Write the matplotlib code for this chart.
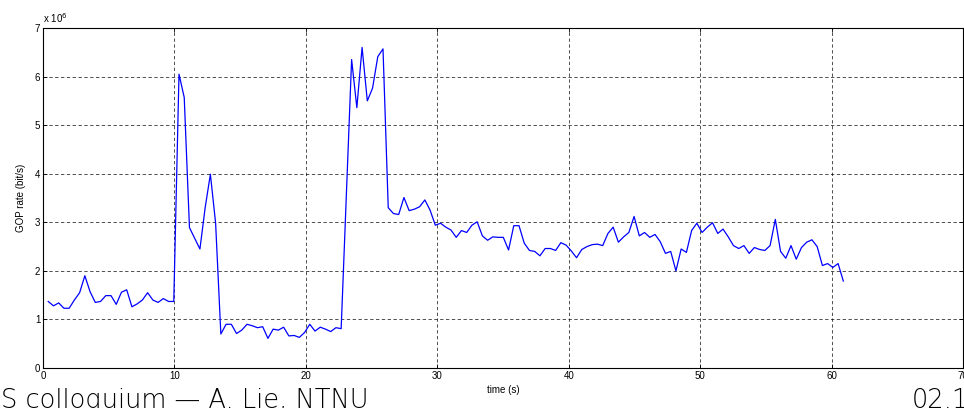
import numpy as np
import matplotlib
matplotlib.use("Agg")
import matplotlib.pyplot as plt

# GOP rate values in units of 1e6 bit/s, one per GOP
gop_rate_mbit = [
    1.37, 1.28, 1.34, 1.23, 1.23, 1.40, 1.55, 1.90, 1.57, 1.35,
    1.37, 1.49, 1.49, 1.31, 1.56, 1.61, 1.26, 1.32, 1.40, 1.55,
    1.40, 1.35, 1.43, 1.37, 1.37,
    6.05, 5.57, 2.89, 2.67, 2.45, 3.30, 3.99, 2.98,
    0.70, 0.90, 0.90, 0.71, 0.78, 0.90, 0.87, 0.83, 0.85, 0.61,
    0.80, 0.78, 0.84, 0.66, 0.67, 0.63, 0.73, 0.90, 0.76, 0.84,
    0.80, 0.75, 0.83, 0.81,
    3.60, 6.35, 5.36, 6.60, 5.50, 5.76, 6.41, 6.57,
    3.30, 3.18, 3.16, 3.51, 3.24, 3.27, 3.32, 3.46, 3.25,
    2.94, 2.98, 2.90, 2.84, 2.69, 2.83, 2.79, 2.94, 3.01,
    2.72, 2.63, 2.70, 2.69, 2.69, 2.43, 2.93, 2.93, 2.57, 2.42,
    2.40, 2.31, 2.46, 2.46, 2.42, 2.58, 2.53, 2.41, 2.27, 2.44,
    2.50, 2.54, 2.55, 2.52, 2.77, 2.90, 2.59, 2.70, 2.79, 3.12,
    2.72, 2.79, 2.69, 2.75, 2.60, 2.36, 2.40, 2.00, 2.45, 2.38,
    2.83, 2.98, 2.79, 2.90, 2.99, 2.77, 2.86, 2.70, 2.52, 2.46,
    2.52, 2.36, 2.48, 2.44, 2.42, 2.52, 3.06, 2.40, 2.26, 2.52,
    2.24, 2.48, 2.59, 2.64, 2.50, 2.11, 2.15, 2.07, 2.15, 1.79,
]
gop_duration_s = 0.398  # time between GOPs
x_ticks = [0, 10, 20, 30, 40, 50, 60, 70]
y_ticks = [0, 1, 2, 3, 4, 5, 6, 7]

time_s = gop_duration_s * (np.arange(len(gop_rate_mbit)) + 1)
rate = np.array(gop_rate_mbit) * 1e6

plt.rcParams['font.family'] = ['Liberation Sans Narrow', 'Liberation Sans', 'DejaVu Sans']

W, H = 964, 408
fig = plt.figure(figsize=(W / 100, H / 100), dpi=100)
ax = fig.add_axes([43 / W, 1 - 368 / H, 920 / W, 340 / H])

ax.plot(time_s, rate, color='#0000ff', lw=0.9)
ax.set_xlim(0, 70)
ax.set_ylim(0, 7e6)
ax.set_xticks(x_ticks)
ax.set_yticks([v * 1e6 for v in y_ticks])
ax.set_yticklabels([str(v) for v in y_ticks])
ax.tick_params(direction='in', length=3, width=0.6, labelsize=7, pad=2,
               top=True, right=True)
ax.grid(True, color='black', linestyle=(0, (4, 3)), linewidth=0.6, alpha=0.8)
for s in ax.spines.values():
    s.set_linewidth(0.8)

ax.set_xlabel('time (s)', fontsize=7, labelpad=3)
ax.set_ylabel('GOP rate (bit/s)', fontsize=7, labelpad=6)
ax.text(0.0, 1.008, r'x 10$^{6}$', transform=ax.transAxes, fontsize=7,
        ha='left', va='bottom')

fig.text(1 / W, (H - 408) / H, 'S colloquium — A. Lie, NTNU', fontsize=18.5,
         family=['DejaVu Sans'], weight='light', ha='left', va='baseline')
fig.text(912 / W, (H - 408) / H, '02.1', fontsize=18.5,
         family=['DejaVu Sans'], weight='light', ha='left', va='baseline')

fig.savefig('out.png', dpi=100)
